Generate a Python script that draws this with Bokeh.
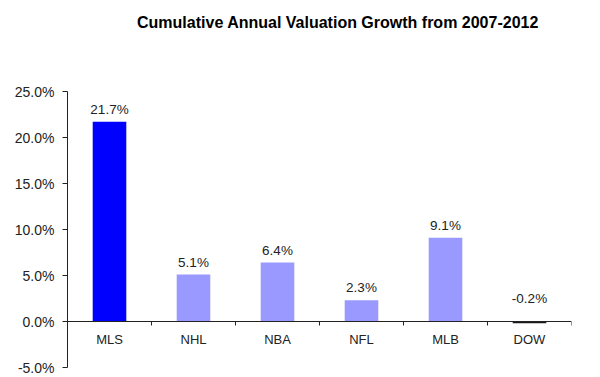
import numpy as np
from bokeh.plotting import figure
from bokeh.models import (ColumnDataSource, LinearAxis, FixedTicker,
                          PrintfTickFormatter, Label)
from bokeh.core.properties import value
from bokeh.embed import file_html
from bokeh.resources import INLINE

categories = ["MLS", "NHL", "NBA", "NFL", "MLB", "DOW"]
growth = [21.7, 5.1, 6.4, 2.3, 9.1, -0.2]
bar_colors = ["#0000FF", "#9999FF", "#9999FF", "#9999FF", "#9999FF", "#1a1a1a"]
labels = ["21.7%", "5.1%", "6.4%", "2.3%", "9.1%", "-0.2%"]
y_ticks = [-5, 0, 5, 10, 15, 20, 25]
title_text = "Cumulative Annual Valuation Growth from 2007-2012"

FONT = "Liberation Sans"

# layout: 9.2 px per percentage point; frame extends to canvas top
PX_PER_UNIT = 9.2
Y_MIN, Y_MAX = -5, 25
TOP_SPACE = 91
y_end = Y_MAX + TOP_SPACE / PX_PER_UNIT

xs = np.arange(len(categories)) + 0.5
vals = np.array(growth)
label_y = np.where(vals >= 0, vals, 1.1)

src = ColumnDataSource(dict(x=xs, top=vals, color=bar_colors, cat=categories,
                            lab=labels, ly=label_y, zero=np.zeros(len(xs))))

p = figure(width=600, height=377, x_range=(0, 6), y_range=(Y_MIN, y_end),
           output_backend="svg", toolbar_location=None, x_axis_type=None,
           min_border_left=67, min_border_right=29, min_border_top=0,
           min_border_bottom=10)
p.outline_line_color = None
p.grid.visible = False
p.background_fill_color = "white"
p.border_fill_color = "white"

p.vbar(x="x", top="top", bottom=0, width=0.4, fill_color="color",
       line_color=None, source=src)

# y axis
ya = p.yaxis[0]
ya.bounds = (Y_MIN, Y_MAX)
ya.ticker = FixedTicker(ticks=y_ticks)
ya.formatter = PrintfTickFormatter(format="%.1f%%")
ya.minor_tick_line_color = None
ya.major_tick_in = 0
ya.major_tick_out = 5
ya.axis_line_color = "#222222"
ya.major_tick_line_color = "#222222"
ya.major_label_text_font = FONT
ya.major_label_text_font_size = "14px"
ya.major_label_text_color = "#222222"
ya.major_label_standoff = 8

# x axis at zero with ticks at category boundaries
bounds = list(range(len(categories) + 1))
xa = LinearAxis(ticker=FixedTicker(ticks=bounds), fixed_location=0)
xa.major_label_overrides = {b: "" for b in bounds}
xa.major_label_standoff = 0
xa.minor_tick_line_color = None
xa.major_tick_in = 0
xa.major_tick_out = 4
xa.axis_line_color = "#222222"
xa.major_tick_line_color = "#222222"
p.add_layout(xa, "below")

# category labels
p.text(x="x", y="zero", text="cat", source=src, text_font=value(FONT),
       text_font_size="13px", text_color="#222222", text_align="center",
       text_baseline="top", y_offset=10)

# value labels
p.text(x="x", y="ly", text="lab", source=src, text_font=value(FONT),
       text_font_size="13.5px", text_color="#222222", text_align="center",
       text_baseline="bottom", y_offset=-5)

# title (data-space position inside the extended frame)
p.add_layout(Label(x=3.22, y=Y_MAX + (TOP_SPACE - 22) / PX_PER_UNIT,
                   text=title_text, text_font=FONT, text_font_size="16px",
                   text_font_style="bold", text_color="#000000",
                   text_align="center", text_baseline="middle"))

open("out.html", "w").write(file_html(p, INLINE))
